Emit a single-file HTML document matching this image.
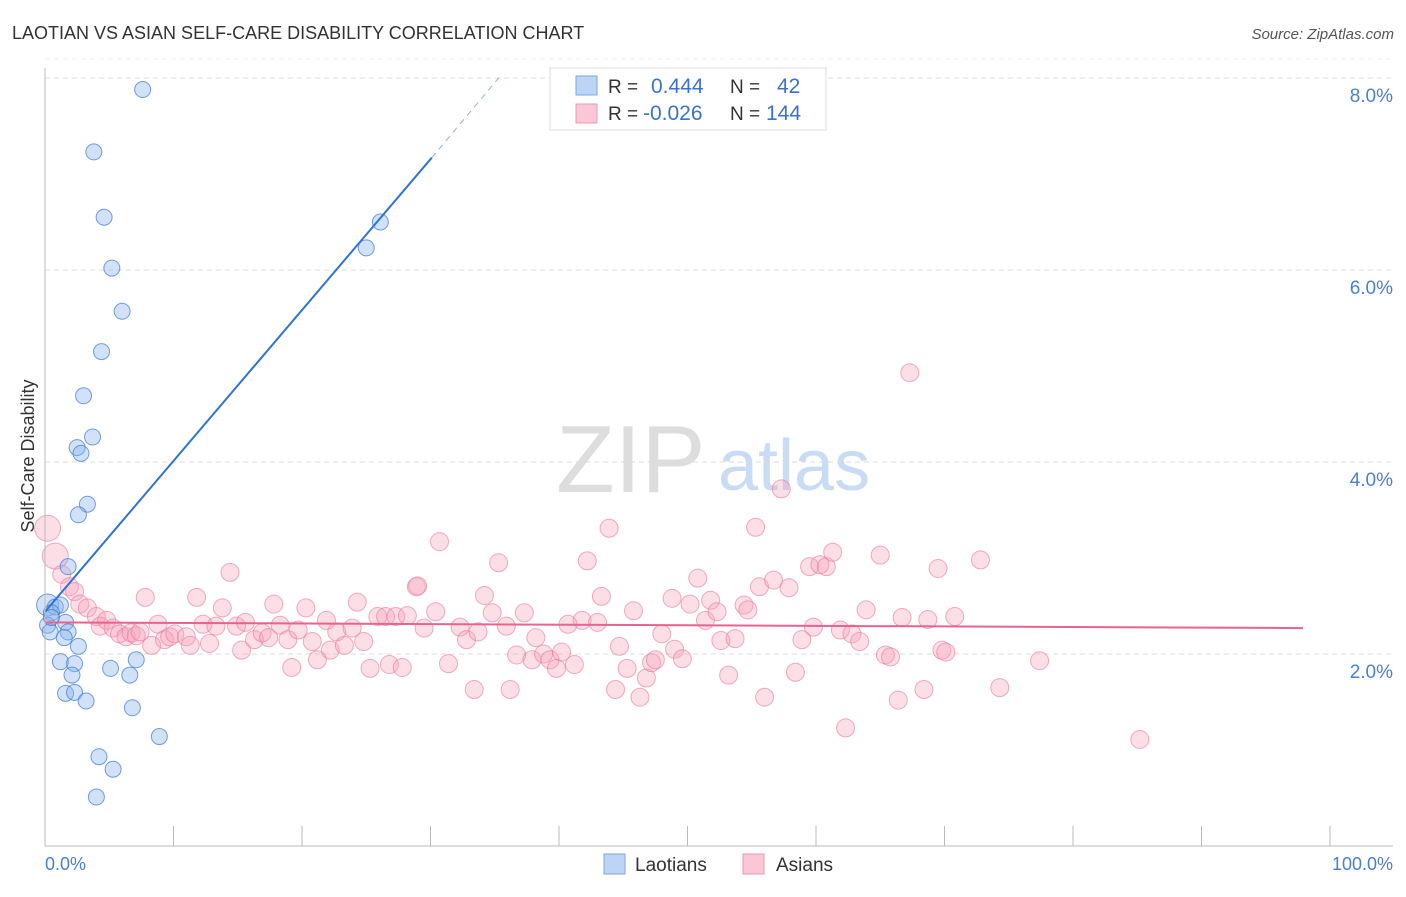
<!DOCTYPE html>
<html><head><meta charset="utf-8"><style>
body{margin:0;background:#fff;font-family:"Liberation Sans",sans-serif}
svg text{font-family:"Liberation Sans",sans-serif}
</style></head><body>
<svg id="c" width="1406" height="892">
<text x="12" y="39" font-size="18" fill="#333">LAOTIAN VS ASIAN SELF-CARE DISABILITY CORRELATION CHART</text>
<text x="1394" y="39" font-size="15" fill="#555" font-style="italic" text-anchor="end">Source: ZipAtlas.com</text>
<text x="556" y="492" font-size="96" fill="#ddd" font-family="Liberation Serif,serif">ZIP</text>
<text x="718" y="490" font-size="72" fill="#c9dcf3">atlas</text>
<text x="34" y="456" font-size="18" fill="#333" text-anchor="middle" transform="rotate(-90 34 456)">Self-Care Disability</text>
<g id="grid"></g><g id="pts"></g><g id="lines"></g>
<line x1="45" y1="68" x2="45" y2="846" stroke="#bbb"/>
<line x1="45" y1="846" x2="1393" y2="846" stroke="#bbb"/>
<text x="45" y="870" font-size="18" fill="#4a7fd4">0.0%</text>
<text x="1393" y="870" font-size="18" fill="#4a7fd4" text-anchor="end">100.0%</text>
<g>
<rect x="550" y="68" width="276" height="62" fill="#fff" stroke="#ddd"/>
<rect x="576" y="76" width="21" height="19" fill="#bcd5f5" stroke="#7aa7e6"/>
<rect x="576" y="104" width="21" height="19" fill="#fbc7d6" stroke="#eb98b1"/>
<text x="608" y="93" font-size="19" fill="#333">R =</text><text x="651" y="93" font-size="21" fill="#3a72d0">0.444</text>
<text x="730" y="93" font-size="19" fill="#333">N =</text><text x="777" y="93" font-size="21" fill="#3a72d0">42</text>
<text x="608" y="120" font-size="19" fill="#333">R =</text><text x="643" y="120" font-size="21" fill="#3a72d0">-0.026</text>
<text x="730" y="120" font-size="19" fill="#333">N =</text><text x="766" y="120" font-size="21" fill="#3a72d0">144</text>
</g>
<g>
<rect x="604" y="854" width="21" height="20" fill="#bcd5f5" stroke="#7aa7e6"/>
<text x="635" y="871" font-size="19" fill="#333">Laotians</text>
<rect x="743" y="854" width="21" height="20" fill="#fbc7d6" stroke="#eb98b1"/>
<text x="776" y="871" font-size="19" fill="#333">Asians</text>
</g>
</svg>
<script>
const yTicks=[2,4,6,8];
const yTickLabels=["2.0%","4.0%","6.0%","8.0%"];
const xTicks=[0,10,20,30,40,50,60,70,80,90,100];
const laoX=[7.6,3.8,4.6,5.2,6.0,4.4,3.0,3.7,2.5,2.8,3.3,2.6,1.8,26.1,25.0,0.2,0.8,1.2,0.5,0.2,0.4,1.6,1.8,1.5,2.6,1.2,2.3,2.1,1.6,2.3,3.2,5.1,6.6,7.1,6.8,8.9,4.2,5.3,4.0,0.5];
const laoY=[7.88,7.23,6.55,6.02,5.57,5.15,4.69,4.26,4.15,4.09,3.56,3.45,2.91,6.5,6.23,2.51,2.49,2.51,2.43,2.3,2.23,2.33,2.23,2.17,2.08,1.92,1.9,1.78,1.59,1.6,1.51,1.85,1.78,1.94,1.44,1.14,0.93,0.8,0.51,2.38];
const asX=[0.2,0.8,1.3,1.9,2.3,2.7,3.3,4.0,4.3,4.8,5.3,5.8,6.3,6.7,7.1,7.4,7.8,8.3,8.8,9.3,9.7,10.1,11.0,11.3,11.8,12.3,12.8,13.3,13.8,14.4,14.9,15.3,15.6,16.3,16.9,17.4,17.8,18.3,18.9,19.2,19.7,20.3,20.8,21.2,21.9,22.2,22.7,23.3,23.9,24.3,24.8,25.3,25.9,26.5,26.8,27.3,27.8,28.2,28.9,29.0,29.5,30.4,30.7,31.4,32.3,32.8,33.4,33.7,34.2,34.8,35.3,35.9,36.2,36.7,37.3,37.9,38.2,38.8,39.3,39.8,40.2,40.7,41.2,41.8,42.2,43.0,43.3,43.9,44.4,44.7,45.3,45.8,46.3,46.8,47.2,47.5,48.0,48.8,49.0,49.6,50.2,50.8,51.4,51.8,52.3,52.6,53.2,53.7,54.4,54.7,55.3,55.6,56.0,56.7,57.3,57.9,58.4,58.9,59.5,59.8,60.3,60.8,61.3,61.9,62.3,62.8,63.4,63.9,65.0,65.4,65.8,66.4,66.7,67.3,68.4,68.7,69.5,69.8,70.1,70.8,72.8,74.3,77.4,85.2];
const asY=[3.31,3.02,2.83,2.70,2.65,2.52,2.48,2.39,2.29,2.35,2.27,2.21,2.18,2.22,2.19,2.23,2.59,2.09,2.31,2.15,2.18,2.21,2.18,2.09,2.59,2.31,2.11,2.29,2.48,2.85,2.29,2.04,2.33,2.15,2.22,2.17,2.52,2.30,2.15,1.86,2.25,2.48,2.13,1.94,2.35,2.04,2.23,2.09,2.27,2.54,2.13,1.85,2.39,2.39,1.89,2.39,1.86,2.40,2.70,2.71,2.27,2.44,3.17,1.90,2.28,2.15,1.63,2.23,2.61,2.43,2.95,2.29,1.63,1.99,2.43,1.94,2.17,2.00,1.94,1.85,2.02,2.31,1.89,2.35,2.97,2.33,2.60,3.31,1.63,2.08,1.85,2.45,1.55,1.75,1.91,1.94,2.21,2.58,2.05,1.95,2.52,2.79,2.35,2.56,2.44,2.14,1.78,2.16,2.51,2.46,3.32,2.70,1.55,2.77,3.72,2.69,1.81,2.15,2.91,2.28,2.93,2.91,3.06,2.25,1.23,2.21,2.13,2.46,3.03,1.99,1.97,1.52,2.38,4.93,1.63,2.36,2.89,2.04,2.02,2.39,2.98,1.65,1.93,1.11];
const laoTrend=[0,2.44,30.1,7.17,35.3,8.0];
const asTrend=[0,2.33,97.9,2.27];
const NS="http://www.w3.org/2000/svg";
const X=v=>45+v*12.85, Y=v=>846-v*96;
function mk(t,a,p){const e=document.createElementNS(NS,t);for(const k in a)e.setAttribute(k,a[k]);document.getElementById(p).appendChild(e);return e;}
yTicks.forEach((t,i)=>{
 const l=mk('line',{x1:45,x2:1393,y1:Y(t),y2:Y(t),stroke:'#ddd','stroke-dasharray':'5,4'},'grid');
 
 
 const tx=mk('text',{x:1393,y:Y(t)+24,'font-size':19,fill:'#4a7fd4','text-anchor':'end'},'grid');
 tx.textContent=yTickLabels[i];
 
 
});
mk('line',{x1:45,x2:1393,y1:Y(8.2),y2:Y(8.2),stroke:'#eee','stroke-dasharray':'5,4'},'grid');
xTicks.forEach(t=>{
 const l=mk('line',{x1:X(t),x2:X(t),y1:826,y2:846,stroke:'#bbb'},'grid');
 
 
});
asX.forEach((x,i)=>{
 const c=mk('circle',{cx:X(x),cy:Y(asY[i]),r:i<2?13:9,fill:'rgba(246,160,186,0.35)',stroke:'rgba(230,120,155,0.6)','stroke-width':1},'pts');
 
 
});
laoX.forEach((x,i)=>{
 const c=mk('circle',{cx:X(x),cy:Y(laoY[i]),r:(i==15)?11:8,fill:'rgba(140,180,236,0.4)',stroke:'rgba(60,120,210,0.7)','stroke-width':1},'pts');
 
 
});
let l1=mk('line',{x1:X(laoTrend[0]),y1:Y(laoTrend[1]),x2:X(laoTrend[2]),y2:Y(laoTrend[3]),stroke:'#2f72d8','stroke-width':2},'lines');


let l2=mk('line',{x1:X(laoTrend[2]),y1:Y(laoTrend[3]),x2:X(laoTrend[4]),y2:Y(laoTrend[5]),stroke:'#8fb3e8','stroke-width':1,'stroke-dasharray':'6,5'},'lines');


let l3=mk('line',{x1:X(asTrend[0]),y1:Y(asTrend[1]),x2:X(asTrend[2]),y2:Y(asTrend[3]),stroke:'#e8638f','stroke-width':2},'lines');


</script>
</body></html>
